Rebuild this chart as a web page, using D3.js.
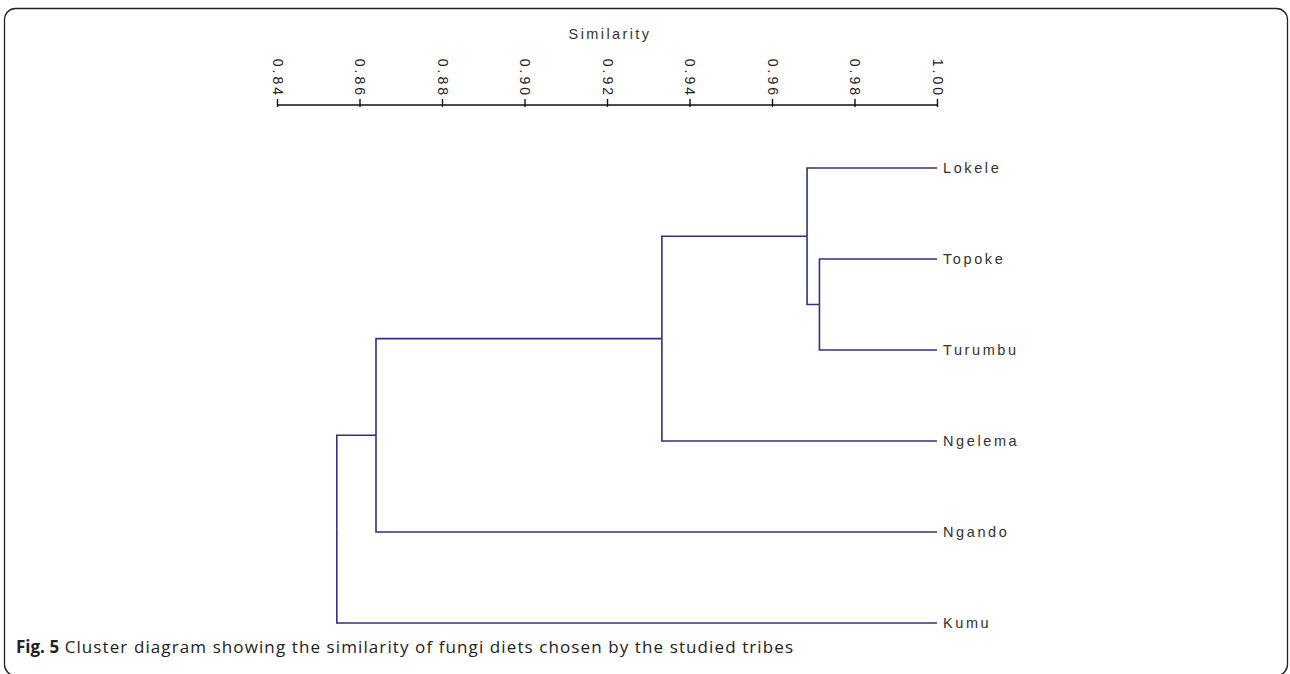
<!DOCTYPE html>
<html>
<head>
<meta charset="utf-8">
<script src="https://cdn.jsdelivr.net/npm/d3@7"></script>
<style>
  html, body { margin: 0; padding: 0; background: #fff; }
  svg { display: block; }
</style>
</head>
<body>
<svg id="chart" width="1290" height="674"></svg>
<script>
// ---- data ----
const leaves = ["Lokele", "Topoke", "Turumbu", "Ngelema", "Ngando", "Kumu"];
const leafSimilarity = 1.00;
// merges: [child A index, child B index, similarity]; new nodes get indices 6,7,...
const merges = [
  [1, 2, 0.9715],
  [0, 6, 0.9685],
  [7, 3, 0.9333],
  [8, 4, 0.8640],
  [9, 5, 0.8545]
];
const tickValues = [0.84, 0.86, 0.88, 0.90, 0.92, 0.94, 0.96, 0.98, 1.00];
const axisTitle = "Similarity";
const captionBold = "Fig. 5";
const captionText = " Cluster diagram showing the similarity of fungi diets chosen by the studied tribes";

// ---- drawing ----
const svg = d3.select("#chart");
const lineColor = "#33307f";

svg.append("rect")
  .attr("x", 4.5).attr("y", 8.5)
  .attr("width", 1283).attr("height", 667)
  .attr("rx", 11).attr("ry", 11)
  .attr("fill", "none").attr("stroke", "#222").attr("stroke-width", 1.3);

const x = d3.scaleLinear().domain([0.84, 1.00]).range([277, 937]);
const y = d3.scalePoint().domain(leaves).range([168, 623]);

// node positions
const nodes = leaves.map(n => ({ x: x(leafSimilarity), y: y(n), name: n }));
merges.forEach(([a, b, s]) => {
  const na = nodes[a], nb = nodes[b];
  nodes.push({ x: x(s), y: (na.y + nb.y) / 2, a, b });
});

const g = svg.append("g");
merges.forEach((m, i) => {
  const node = nodes[leaves.length + i];
  [nodes[m[0]], nodes[m[1]]].forEach(ch => {
    g.append("path")
      .attr("d", `M${node.x},${node.y}V${ch.y}H${ch.x}`)
      .attr("fill", "none")
      .attr("stroke", lineColor)
      .attr("stroke-width", 1.6);
  });
});

// leaf labels
svg.selectAll("text.leaf").data(leaves).join("text")
  .attr("class", "leaf")
  .attr("x", x(leafSimilarity) + 6)
  .attr("y", d => y(d))
  .attr("dy", "0.36em")
  .attr("font-family", "Liberation Sans, Arial, sans-serif")
  .attr("font-size", 14.5)
  .attr("letter-spacing", "2.6px")
  .attr("fill", "#333")
  .text(d => d);

// axis
const axisY = 105;
const axis = d3.axisTop(x).tickValues(tickValues).tickSize(7).tickFormat(d3.format(".2f"));
const ag = svg.append("g").attr("transform", `translate(0,${axisY})`).call(axis);
ag.select(".domain").attr("d", `M${x(0.84)},0H${x(1.00)}`).attr("stroke", "#111").attr("stroke-width", 1.4);
ag.selectAll(".tick line").attr("stroke", "#111").attr("stroke-width", 1.4).attr("y2", -6).attr("y1", 2);
ag.selectAll(".tick text")
  .attr("transform", "translate(0,-7) rotate(90)")
  .attr("x", 0).attr("y", 0).attr("dy", "0.35em")
  .attr("text-anchor", "end")
  .attr("font-family", "Liberation Sans, Arial, sans-serif")
  .attr("font-size", 14)
  .attr("letter-spacing", "3px")
  .attr("fill", "#222");

svg.append("text")
  .attr("x", 610).attr("y", 39)
  .attr("text-anchor", "middle")
  .attr("font-family", "Liberation Sans, Arial, sans-serif")
  .attr("font-size", 14.5)
  .attr("letter-spacing", "2.4px")
  .attr("fill", "#333")
  .text(axisTitle);

// caption
const cap = svg.append("text")
  .attr("x", 16).attr("y", 653)
  .attr("font-family", "Open Sans, sans-serif")
  .attr("font-size", 17)
  .attr("fill", "#222");
cap.append("tspan").attr("font-weight", "bold").text(captionBold);
cap.append("tspan").attr("letter-spacing", "1.1px").text(captionText);
</script>
</body>
</html>
